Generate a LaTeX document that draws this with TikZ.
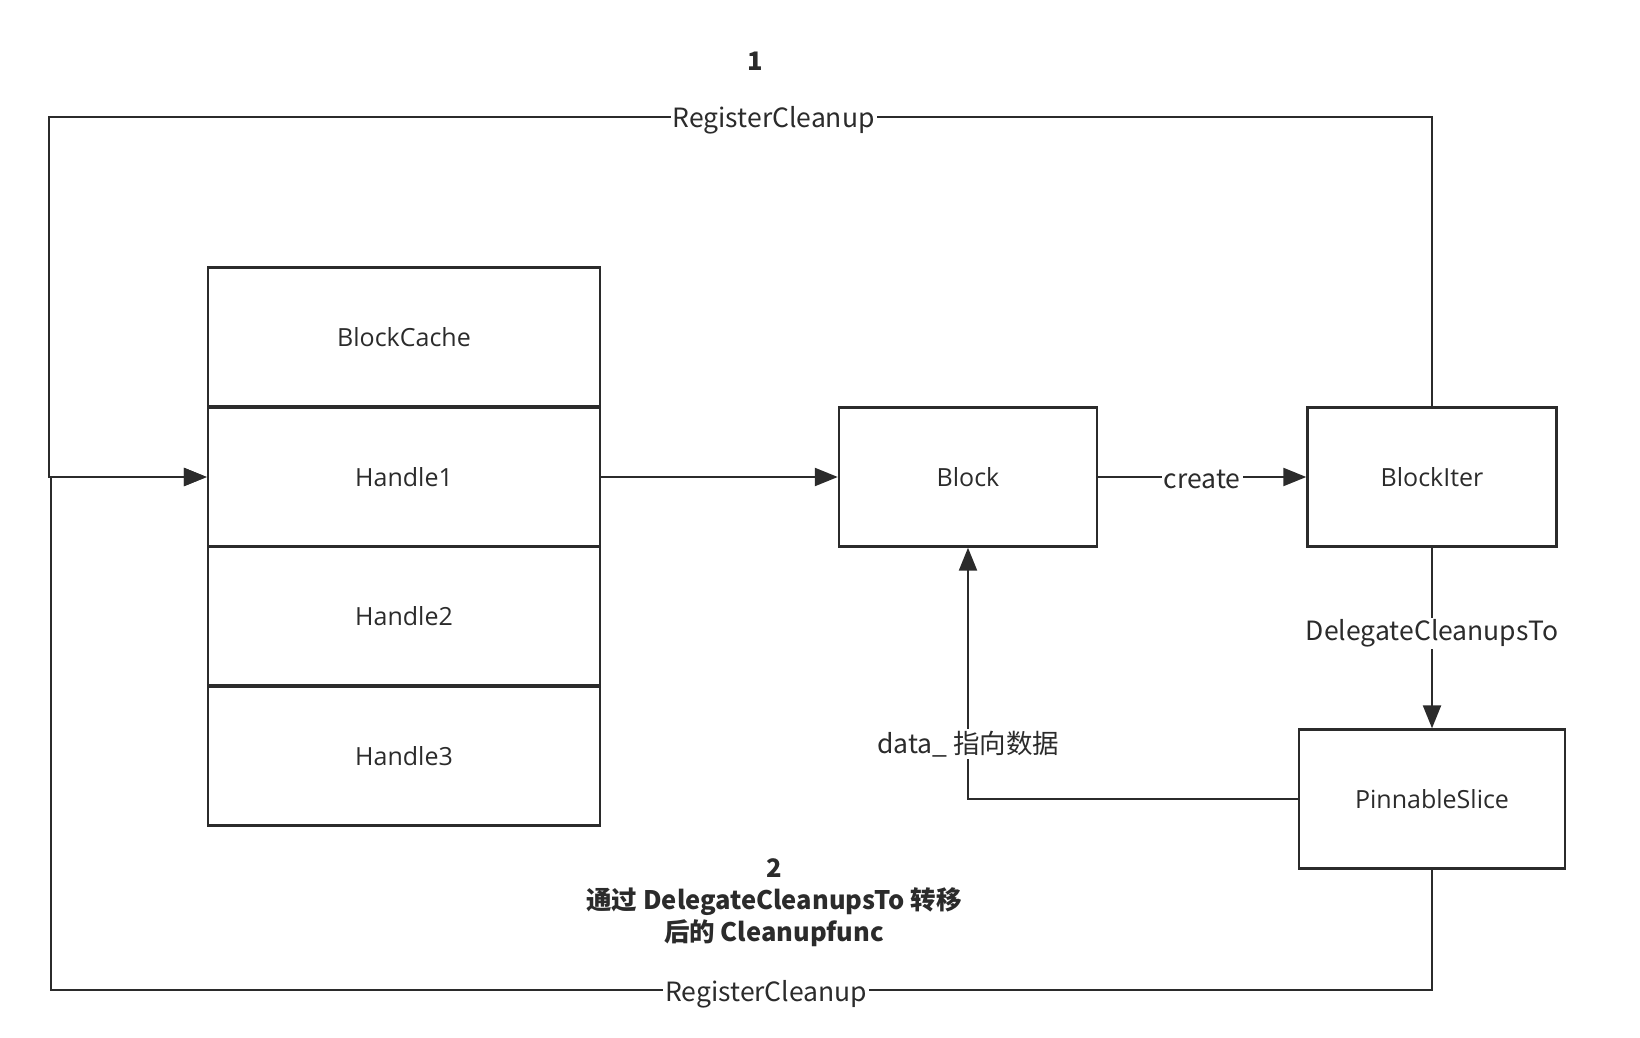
\documentclass[tikz,border=0pt]{standalone}
\usepackage{fontspec}
\setmainfont{Open Sans}
\newfontfamily\cjk{Noto Sans CJK SC}
\usetikzlibrary{arrows.meta}
\definecolor{ink}{HTML}{2B2B2B}
\begin{document}
\begin{tikzpicture}[x=1pt,y=-1pt,
  line width=2.3pt, draw=ink,
  box/.style={draw=ink, line width=2.4pt, minimum width=#1, minimum height=139pt, inner sep=0pt, font=\fontsize{25}{30}\selectfont, text=ink},
  box/.default=392pt,
  conn/.style={draw=ink, line width=2.3pt, -{Triangle[length=23pt,width=18pt]}},
  elabel/.style={fill=white, inner sep=2pt, font=\cjk\fontsize{26.5}{31}\selectfont, text=ink},
  note/.style={align=center, font=\cjk\bfseries\fontsize{25.5}{32}\selectfont, text=ink}]
\useasboundingbox (0,0) rectangle (1640,1038);
% stack
\node[box] (bc) at (404,337) {BlockCache};
\node[box] (h1) at (404,477) {Handle1};
\node[box] (h2) at (404,616) {Handle2};
\node[box] (h3) at (404,756) {Handle3};
% other boxes
\node[box=258pt] (blk) at (968,477) {Block};
\node[box=249pt] (bi) at (1432,477) {BlockIter};
\node[box=266pt] (ps) at (1432,799) {PinnableSlice};
% coordinates
\coordinate (tl) at (49,117);
\coordinate (bl) at (51,990);
% connectors
\draw[conn] (h1.east) -- (blk.west);
\draw[conn] (blk.east) -- node[elabel, pos=0.5, yshift=-2pt]{create} (bi.west);
\draw[conn] (bi.south) -- node[elabel, pos=0.475]{DelegateCleanupsTo} (ps.north);
\draw[conn] (ps.west) -| node[elabel, pos=0.609]{data\_ 指向数据} (blk.south);
\draw[conn] (bi.north) |- node[elabel, pos=0.738, yshift=-3pt]{RegisterCleanup} (tl) |- (h1.west);
\draw[conn] (ps.south) |- node[elabel, pos=0.741, yshift=-4pt]{RegisterCleanup} (bl) |- (h1.west);
% notes
\node[note] (n1) at (755,61) {1};
\node[note] (n2) at (774,903) {2\\通过 DelegateCleanupsTo 转移\\后的 Cleanupfunc};
\end{tikzpicture}
\end{document}
